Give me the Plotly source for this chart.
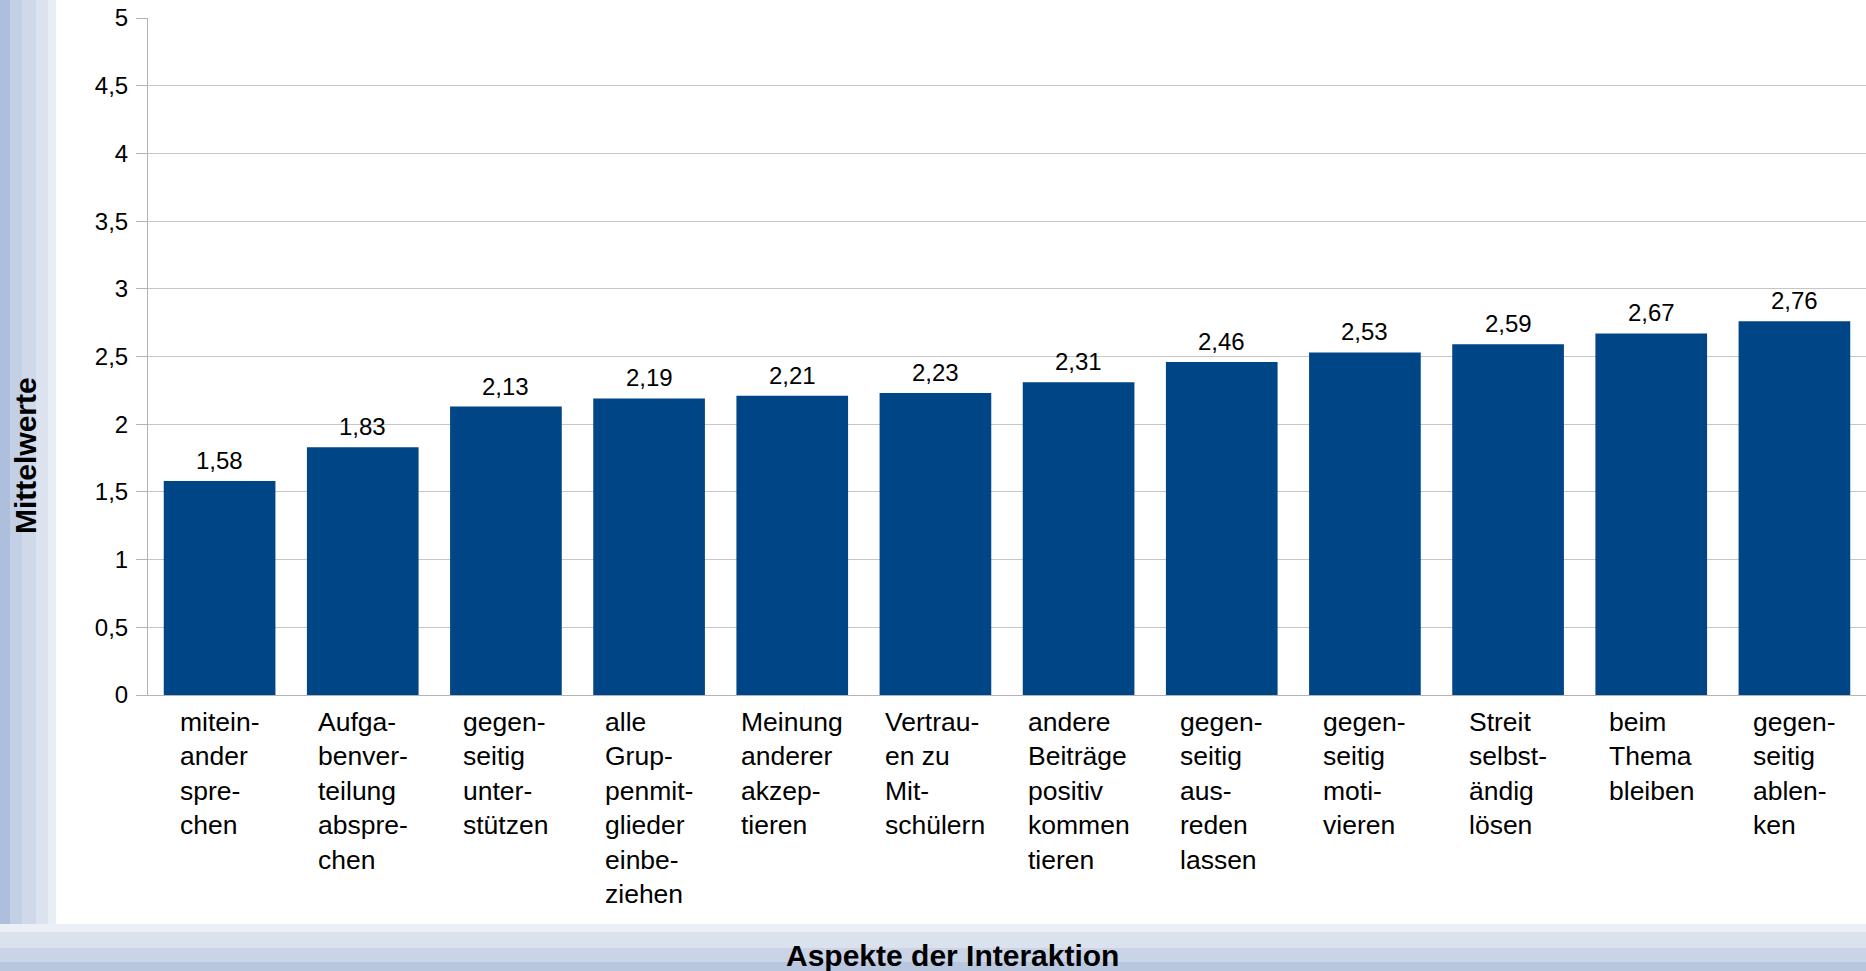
import plotly.graph_objects as go

categories = [
    "miteinander sprechen", "Aufgabenverteilung absprechen", "gegenseitig unterstützen",
    "alle Gruppenmitglieder einbeziehen", "Meinung anderer akzeptieren",
    "Vertrauen zu Mitschülern", "andere Beiträge positiv kommentieren",
    "gegenseitig ausreden lassen", "gegenseitig motivieren", "Streit selbständig lösen",
    "beim Thema bleiben", "gegenseitig ablenken",
]
tick_labels = [
    "mitein-<br>ander<br>spre-<br>chen",
    "Aufga-<br>benver-<br>teilung<br>abspre-<br>chen",
    "gegen-<br>seitig<br>unter-<br>stützen",
    "alle<br>Grup-<br>penmit-<br>glieder<br>einbe-<br>ziehen",
    "Meinung<br>anderer<br>akzep-<br>tieren",
    "Vertrau-<br>en zu<br>Mit-<br>schülern",
    "andere<br>Beiträge<br>positiv<br>kommen<br>tieren",
    "gegen-<br>seitig<br>aus-<br>reden<br>lassen",
    "gegen-<br>seitig<br>moti-<br>vieren",
    "Streit<br>selbst-<br>ändig<br>lösen",
    "beim<br>Thema<br>bleiben",
    "gegen-<br>seitig<br>ablen-<br>ken",
]
values = [1.58, 1.83, 2.13, 2.19, 2.21, 2.23, 2.31, 2.46, 2.53, 2.59, 2.67, 2.76]
y_ticks = [0, 0.5, 1, 1.5, 2, 2.5, 3, 3.5, 4, 4.5, 5]

W, H = 1866, 971
ML, MR, MT, MB = 148, 0, 18, 276
PW, PH = W - ML - MR, H - MT - MB

def px(x):
    return (x - ML) / PW

def py(y):
    return (H - MB - y) / PH

FONT = "Liberation Sans, Arial, sans-serif"
BAR = "#004586"

fig = go.Figure()
fig.add_trace(go.Bar(
    x=list(range(len(values))), y=values,
    marker=dict(color=BAR, line=dict(width=0)),
    width=0.78, hoverinfo="skip",
))

shapes = []
# decorative background frame (left and bottom strips), soft layered bands
left_bands = [(0, 56, "#e9edf4"), (0, 48, "#dce3ee"), (0, 36, "#cfd9e9"),
              (0, 22, "#c2cfe4"), (0, 10, "#adbfdc")]
for x0, x1, c in left_bands:
    shapes.append(dict(type="rect", xref="paper", yref="paper", layer="below",
                       x0=px(x0), x1=px(x1), y0=py(H), y1=py(0),
                       fillcolor=c, line=dict(width=0)))
bottom_bands = [(924, H, "#eceff5"), (932, H, "#dbe2ed"), (948, H, "#cad4e6"),
                (962, H, "#b8c6de")]
for y0, y1, c in bottom_bands:
    shapes.append(dict(type="rect", xref="paper", yref="paper", layer="below",
                       x0=px(0), x1=px(W), y0=py(y1), y1=py(y0),
                       fillcolor=c, line=dict(width=0)))

annotations = []
for i, v in enumerate(values):
    annotations.append(dict(
        x=i, y=v, xref="x", yref="y", xanchor="center", yanchor="bottom",
        text=f"{v:.2f}".replace(".", ","), showarrow=False, yshift=5,
        font=dict(family=FONT, size=24, color="#000000"),
    ))
for i, lab in enumerate(tick_labels):
    annotations.append(dict(
        x=i, y=0, xref="x", yref="paper", xanchor="center", yanchor="top",
        text=lab, align="left", showarrow=False, yshift=-10,
        font=dict(family=FONT, size=26.5, color="#000000"),
    ))
annotations.append(dict(
    x=px(952), y=py(955), xref="paper", yref="paper", xanchor="center", yanchor="middle",
    text="<b>Aspekte der Interaktion</b>", showarrow=False,
    font=dict(family=FONT, size=30, color="#000000"),
))
annotations.append(dict(
    x=px(26), y=py(456), xref="paper", yref="paper", xanchor="center", yanchor="middle",
    text="<b>Mittelwerte</b>", showarrow=False, textangle=-90,
    font=dict(family=FONT, size=30, color="#000000"),
))

fig.update_layout(
    width=W, height=H,
    margin=dict(l=ML, r=MR, t=MT, b=MB),
    paper_bgcolor="#ffffff", plot_bgcolor="#ffffff",
    separators=",.",
    showlegend=False,
    shapes=shapes,
    annotations=annotations,
    xaxis=dict(range=[-0.5, len(values) - 0.5], showticklabels=False, showgrid=False,
               zeroline=False, showline=True, linecolor="#b3b3b3", linewidth=1,
               ticks=""),
    yaxis=dict(range=[0, 5], tickvals=y_ticks, tickformat=".1~f",
               showgrid=True, gridcolor="#c6c6c6", gridwidth=1,
               zeroline=False, showline=True, linecolor="#b3b3b3", linewidth=1,
               ticks="outside", ticklen=11, tickcolor="#b3b3b3",
               ticklabelstandoff=3,
               tickfont=dict(family=FONT, size=24, color="#000000")),
    font=dict(family=FONT),
)

fig.write_html(
    "out.html",
    config={"displayModeBar": False},
    post_script="document.body.style.margin='0';document.body.style.overflow='hidden';",
)
